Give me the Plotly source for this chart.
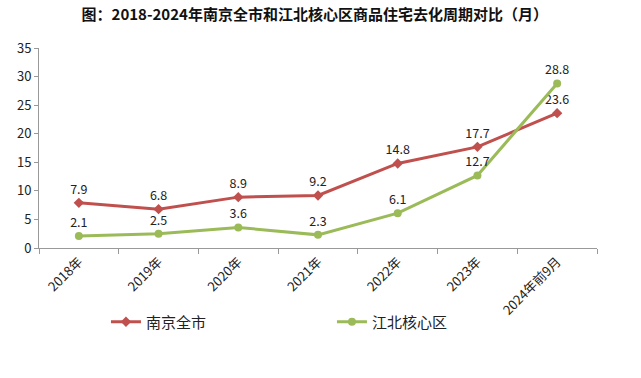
import plotly.graph_objects as go

categories = ["2018年", "2019年", "2020年", "2021年", "2022年", "2023年", "2024年前9月"]
nanjing = [7.9, 6.8, 8.9, 9.2, 14.8, 17.7, 23.6]
jiangbei = [2.1, 2.5, 3.6, 2.3, 6.1, 12.7, 28.8]
y_ticks = [0, 5, 10, 15, 20, 25, 30, 35]

font_family = "Noto Sans CJK SC, Noto Sans, sans-serif"

fig = go.Figure()
fig.add_trace(go.Scatter(
    x=categories, y=nanjing, name="南京全市", mode="lines+markers+text",
    line=dict(color="#C0504D", width=3),
    marker=dict(symbol="diamond", size=8, color="#C0504D"),
    text=[f"{v:.1f}" for v in nanjing], textposition="top center",
    textfont=dict(size=12.5, color="#222222"),
))
fig.add_trace(go.Scatter(
    x=categories, y=jiangbei, name="江北核心区", mode="lines+markers+text",
    line=dict(color="#9BBB59", width=3),
    marker=dict(symbol="circle", size=8, color="#9BBB59"),
    text=[f"{v:.1f}" for v in jiangbei], textposition="top center",
    textfont=dict(size=12.5, color="#222222"),
))

fig.update_layout(
    width=641, height=378,
    margin=dict(l=39, r=44, t=48, b=130, autoexpand=False),
    paper_bgcolor="white", plot_bgcolor="white",
    font=dict(family=font_family, size=12, color="#222222"),
    title=dict(text="<b>图：2018-2024年南京全市和江北核心区商品住宅去化周期对比（月）</b>",
               x=0.491, xanchor="center", y=0.96, yanchor="middle",
               font=dict(size=15, color="#111111")),
    showlegend=True,
    legend=dict(orientation="h", x=0.12, y=-0.37, xanchor="left", yanchor="middle",
                entrywidth=181, entrywidthmode="pixels", font=dict(size=15),
                itemwidth=30, bgcolor="rgba(0,0,0,0)"),
    xaxis=dict(
        range=[-0.5, len(categories) - 0.5],
        showline=True, linecolor="#999999", ticks="outside", tickcolor="#999999",
        ticklen=5, tickson="boundaries", tickangle=-45, showgrid=False,
        tickfont=dict(size=13), automargin=False,
    ),
    yaxis=dict(
        range=[0, 35], tickvals=y_ticks, showline=True, linecolor="#999999",
        ticks="outside", tickcolor="#999999", ticklen=4, showgrid=False,
        zeroline=False, tickfont=dict(size=13), automargin=False,
    ),
)

fig.write_html("out.html", config={"displayModeBar": False},
               post_script="document.body.style.margin='0';document.body.style.overflow='hidden';")
